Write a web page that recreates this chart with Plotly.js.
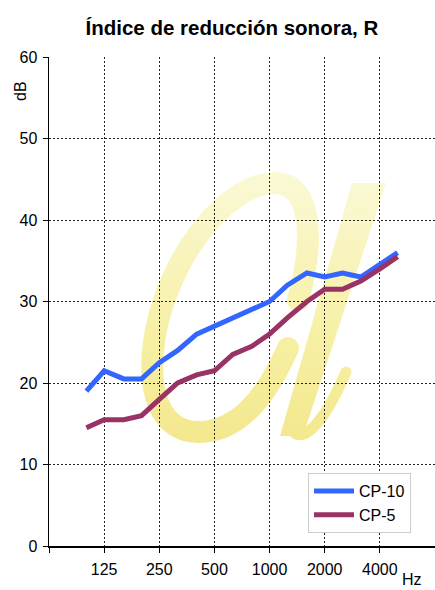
<!DOCTYPE html>
<html>
<head>
<meta charset="utf-8">
<script src="https://cdn.plot.ly/plotly-3.0.1.min.js"></script>
<style>html,body{margin:0;padding:0;background:#fff;}#chart{width:435px;height:590px;}</style>
</head>
<body>
<div id="chart"></div>
<script>
// Third-octave band centre frequencies (Hz)
var frequencies = [100,125,160,200,250,315,400,500,630,800,1000,1250,1600,2000,2500,3150,4000,5000];
// Sound reduction index R (dB)
var cp10 = [19,21.5,20.5,20.5,22.5,24,26,27,28,29,30,32,33.5,33,33.5,33,34.5,36];
var cp5  = [14.5,15.5,15.5,16,18,20,21,21.5,23.5,24.5,26,28,30,31.5,31.5,32.5,34,35.5];
var seriesNames = ['CP-10','CP-5'];
var tickValues = [62.5,125,250,500,1000,2000,4000];
var tickLabels = ['','125','250','500','1000','2000','4000'];

// Yellow "alpha" watermark drawn as an SVG background image (plot-area pixel coords)
var svg = '<svg xmlns="http://www.w3.org/2000/svg" viewBox="49 57 386 489" preserveAspectRatio="none">' +
  '<defs><linearGradient id="g" gradientUnits="userSpaceOnUse" x1="0" y1="175" x2="0" y2="445">' +
  '<stop offset="0" stop-color="#fbf8cf"/><stop offset="0.6" stop-color="#f5ee95"/><stop offset="1" stop-color="#f3e47a"/></linearGradient></defs>' +
  '<g opacity="0.85">' +
  '<path d="M 298,300 C 316,235 310,184 276,183 C 226,182 170,258 156,330 C 144,394 162,432 198,432 C 238,432 266,398 288,348" fill="none" stroke="url(#g)" stroke-width="22" stroke-linecap="round"/>' +
  '<path d="M 352,183 L 386,183 L 303,436 L 280,436 Z" fill="url(#g)"/>' +
  '<path d="M 291,428 C 300,446 322,428 346,372" fill="none" stroke="url(#g)" stroke-width="11" stroke-linecap="round"/>' +
  '</g></svg>';
var svgUri = 'data:image/svg+xml;charset=utf-8,' + encodeURIComponent(svg);

var font = 'Liberation Sans, Arial, Helvetica, sans-serif';

var traces = [
  {x: frequencies, y: cp10, name: seriesNames[0], type: 'scatter', mode: 'lines',
   line: {color: '#3366FF', width: 5}},
  {x: frequencies, y: cp5, name: seriesNames[1], type: 'scatter', mode: 'lines',
   line: {color: '#993366', width: 5}}
];

var layout = {
  width: 435, height: 590,
  margin: {l: 49, r: 0, t: 57, b: 44, pad: 0},
  paper_bgcolor: '#ffffff', plot_bgcolor: 'rgba(0,0,0,0)',
  font: {family: font, size: 16, color: '#000'},
  title: {text: '<b>Índice de reducción sonora, R</b>', font: {family: font, size: 20.5, color: '#000'},
          xref: 'container', x: 0.533, xanchor: 'center', yref: 'container', y: 0.953, yanchor: 'middle'},
  showlegend: true,
  legend: {x: 0.671, y: 0.149, xanchor: 'left', yanchor: 'top', bgcolor: '#fff',
           bordercolor: '#cccccc', borderwidth: 1, font: {family: font, size: 16, color: '#000'},
           itemwidth: 40, tracegroupgap: 0},
  xaxis: {type: 'log', range: [Math.log10(62.5), Math.log10(8000)],
          tickmode: 'array', tickvals: tickValues, ticktext: tickLabels,
          showgrid: true, gridcolor: '#222', gridwidth: 1, griddash: '2px,2px',
          showline: true, linecolor: '#000', linewidth: 1.5,
          ticks: 'outside', ticklen: 5, tickcolor: '#000', tickwidth: 1,
          tickfont: {family: font, size: 16, color: '#000'}, ticklabelstandoff: 3,
          zeroline: false, fixedrange: true},
  yaxis: {range: [0, 60], tickmode: 'linear', tick0: 0, dtick: 10,
          showgrid: true, gridcolor: '#222', gridwidth: 1, griddash: '2px,2px',
          showline: true, linecolor: '#000', linewidth: 1.5,
          ticks: 'outside', ticklen: 5, tickcolor: '#000', tickwidth: 1,
          tickfont: {family: font, size: 16, color: '#000'}, ticklabelstandoff: 2,
          zeroline: false, fixedrange: true},
  images: [{source: svgUri, xref: 'paper', yref: 'paper', x: 0, y: 1, sizex: 1, sizey: 1,
            xanchor: 'left', yanchor: 'top', sizing: 'stretch', layer: 'below'}],
  annotations: [
    {text: 'Hz', xref: 'paper', yref: 'paper', x: (412 - 49) / 386, y: (546 - 590) / 489,
     xanchor: 'center', yanchor: 'bottom', showarrow: false,
     font: {family: font, size: 16, color: '#000'}},
    {text: 'dB', xref: 'paper', yref: 'paper', x: (20 - 49) / 386, y: (546 - 91) / 489,
     xanchor: 'center', yanchor: 'middle', textangle: -90, showarrow: false,
     font: {family: font, size: 16, color: '#000'}}
  ]
};

Plotly.newPlot('chart', traces, layout, {displayModeBar: false, staticPlot: true});
</script>
</body>
</html>
